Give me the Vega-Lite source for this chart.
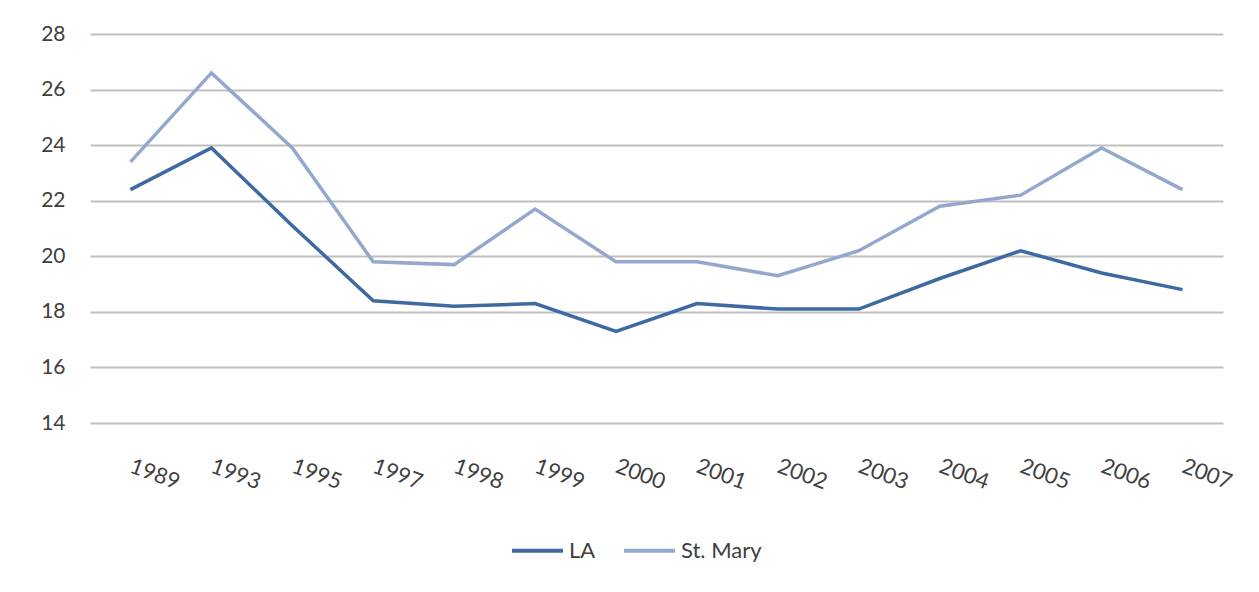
{
  "$schema": "https://vega.github.io/schema/vega-lite/v6.json",
  "width": 1133,
  "height": 389,
  "autosize": {"type": "none"},
  "padding": {"left": 90, "top": 34, "right": 36, "bottom": 169},
  "background": "white",
  "data": {
    "values": [
      {"year": "1989", "series": "LA", "value": 22.4},
      {"year": "1993", "series": "LA", "value": 23.9},
      {"year": "1995", "series": "LA", "value": 21.1},
      {"year": "1997", "series": "LA", "value": 18.4},
      {"year": "1998", "series": "LA", "value": 18.2},
      {"year": "1999", "series": "LA", "value": 18.3},
      {"year": "2000", "series": "LA", "value": 17.3},
      {"year": "2001", "series": "LA", "value": 18.3},
      {"year": "2002", "series": "LA", "value": 18.1},
      {"year": "2003", "series": "LA", "value": 18.1},
      {"year": "2004", "series": "LA", "value": 19.2},
      {"year": "2005", "series": "LA", "value": 20.2},
      {"year": "2006", "series": "LA", "value": 19.4},
      {"year": "2007", "series": "LA", "value": 18.8},
      {"year": "1989", "series": "St. Mary", "value": 23.4},
      {"year": "1993", "series": "St. Mary", "value": 26.6},
      {"year": "1995", "series": "St. Mary", "value": 23.9},
      {"year": "1997", "series": "St. Mary", "value": 19.8},
      {"year": "1998", "series": "St. Mary", "value": 19.7},
      {"year": "1999", "series": "St. Mary", "value": 21.7},
      {"year": "2000", "series": "St. Mary", "value": 19.8},
      {"year": "2001", "series": "St. Mary", "value": 19.8},
      {"year": "2002", "series": "St. Mary", "value": 19.3},
      {"year": "2003", "series": "St. Mary", "value": 20.2},
      {"year": "2004", "series": "St. Mary", "value": 21.8},
      {"year": "2005", "series": "St. Mary", "value": 22.2},
      {"year": "2006", "series": "St. Mary", "value": 23.9},
      {"year": "2007", "series": "St. Mary", "value": 22.4}
    ]
  },
  "mark": {"type": "line", "strokeWidth": 3.5},
  "encoding": {
    "x": {
      "field": "year",
      "type": "ordinal",
      "sort": null,
      "scale": {"type": "point", "padding": 0.5},
      "axis": {
        "title": null,
        "domain": false,
        "ticks": false,
        "grid": false,
        "labelAngle": 20,
        "labelAlign": "left",
        "labelBaseline": "middle",
        "labelPadding": 42,
        "labelFont": "Lato",
        "labelFontSize": 22,
        "labelColor": "#404040"
      }
    },
    "y": {
      "field": "value",
      "type": "quantitative",
      "scale": {"domain": [14, 28], "nice": false, "zero": false},
      "axis": {
        "title": null,
        "values": [14, 16, 18, 20, 22, 24, 26, 28],
        "domain": false,
        "ticks": false,
        "grid": true,
        "gridColor": "#BFBFBF",
        "gridWidth": 2,
        "labelPadding": 25,
        "labelFont": "Lato",
        "labelFontSize": 21,
        "labelColor": "#404040"
      }
    },
    "color": {
      "field": "series",
      "type": "nominal",
      "scale": {"domain": ["LA", "St. Mary"], "range": ["#3E69A3", "#94A8CF"]},
      "legend": {
        "title": null,
        "orient": "none",
        "direction": "horizontal",
        "legendX": 420,
        "legendY": 489,
        "symbolType": "stroke",
        "symbolSize": 2600,
        "symbolStrokeWidth": 4,
        "labelFont": "Lato",
        "labelFontSize": 22,
        "labelColor": "#404040",
        "labelOffset": 4,
        "columnPadding": 20
      }
    }
  },
  "config": {"view": {"stroke": null}}
}
